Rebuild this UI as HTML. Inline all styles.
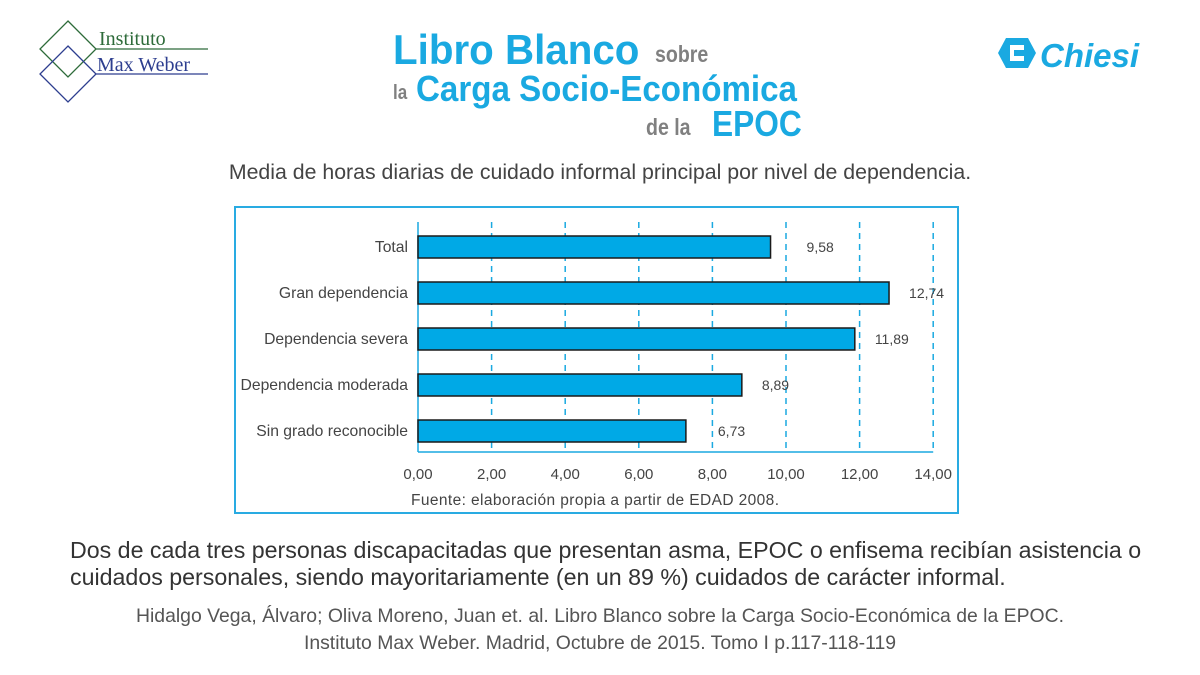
<!DOCTYPE html>
<html><head><meta charset="utf-8"><style>
body{margin:0;width:1200px;height:675px;background:#fff;position:relative;overflow:hidden;font-family:"Liberation Sans",sans-serif}
.abs{position:absolute;white-space:nowrap}
.t{color:#1aa9e1;font-family:"Liberation Sans",sans-serif;font-weight:bold;transform-origin:0 0}
.g{color:#808080;font-family:"Liberation Sans",sans-serif;font-weight:bold;transform-origin:0 0}
</style></head><body>
<svg class="abs" style="left:0;top:0" width="220" height="110">
<polygon points="68,21 96,49 68,77 40,49" fill="none" stroke="#2e6b3a" stroke-width="1.3"/>
<polygon points="68,46 96,74 68,102 40,74" fill="none" stroke="#2d3e8f" stroke-width="1.3"/>
<line x1="96" y1="49" x2="208" y2="49" stroke="#2e6b3a" stroke-width="1.3"/>
<line x1="96" y1="74" x2="208" y2="74" stroke="#2d3e8f" stroke-width="1.3"/>
<text x="99" y="45" font-family="Liberation Serif" font-size="20" fill="#2e6b3a">Instituto</text>
<text x="97" y="71" font-family="Liberation Serif" font-size="20" fill="#2d3e8f">Max Weber</text>
</svg>
<div class="abs t" style="left:393px;top:26px;font-size:42px;transform:scaleX(0.96)">Libro Blanco</div>
<div class="abs g" style="left:655px;top:41px;font-size:23px;transform:scaleX(0.85)">sobre</div>
<div class="abs g" style="left:393px;top:82px;font-size:20px;transform:scaleX(0.85)">la</div>
<div class="abs t" style="left:416px;top:68px;font-size:36px;transform:scaleX(0.92)">Carga Socio-Económica</div>
<div class="abs g" style="left:646px;top:114px;font-size:23px;transform:scaleX(0.85)">de la</div>
<div class="abs t" style="left:712px;top:103px;font-size:36px;transform:scaleX(0.88)">EPOC</div>
<svg class="abs" style="left:998px;top:36px" width="165" height="40">
<polygon points="8,2 30,2 38,17 30,32 8,32 0,17" fill="#1aa9e1"/>
<polygon points="12,9 26,9 26,14 16,14 16,20 26,20 26,25 12,25" fill="#fff"/>
<text x="42" y="31" font-family="Liberation Sans" font-weight="bold" font-style="italic" font-size="33" fill="#1aa9e1">Chiesi</text>
</svg>
<div class="abs" style="left:0;width:1200px;text-align:center;top:160px;font-size:21.3px;color:#444">Media de horas diarias de cuidado informal principal por nivel de dependencia.</div>
<svg class="abs" id="chart" style="left:0;top:0" width="1200" height="560">
<rect x="235" y="207" width="723" height="306" fill="none" stroke="#29abe2" stroke-width="2"/>
<g id="plot"></g>
<text x="411" y="505" font-size="15.5" fill="#444" textLength="368">Fuente: elaboración propia a partir de EDAD 2008.</text>
</svg>
<div class="abs" style="left:70px;top:537px;font-size:23.2px;color:#333;line-height:27px">Dos de cada tres personas discapacitadas que presentan asma, EPOC o enfisema recibían asistencia o<br>cuidados personales, siendo mayoritariamente (en un 89 %) cuidados de carácter informal.</div>
<div class="abs" style="left:0;width:1200px;text-align:center;top:603px;font-size:19.4px;color:#555;line-height:27px">Hidalgo Vega, Álvaro; Oliva Moreno, Juan et. al. Libro Blanco sobre la Carga Socio-Económica de la EPOC.<br>Instituto Max Weber. Madrid, Octubre de 2015. Tomo I p.117-118-119</div>
<script>
const categories=["Total","Gran dependencia","Dependencia severa","Dependencia moderada","Sin grado reconocible"];
const values=[9.58,12.80,11.87,8.80,7.28];
const valueLabels=["9,58","12,74","11,89","8,89","6,73"];
const ticks=[0,2,4,6,8,10,12,14];
const tickLabels=["0,00","2,00","4,00","6,00","8,00","10,00","12,00","14,00"];
const NS="http://www.w3.org/2000/svg";
const g=document.getElementById('plot');
const X0=418,PX=36.8,Y0=236,STEP=46,BH=22,TOP=222,BOT=452;
const xs=v=>X0+v*PX, ys=i=>Y0+i*STEP;
function mk(t,a){const e=document.createElementNS(NS,t);for(const k in a)e.setAttribute(k,a[k]);g.appendChild(e);return e;}
ticks.forEach((t,i)=>{
 if(t>0){const l=mk('line',{x1:xs(t),x2:xs(t),y1:TOP,y2:BOT,stroke:'#1aa9e1','stroke-width':1.5,'stroke-dasharray':'6,5'});
 
 }
 const tx=mk('text',{x:xs(t),y:479,'text-anchor':'middle','font-size':15,fill:'#444'});tx.textContent=tickLabels[i];
 
 
});
const ax=mk('line',{x1:X0,x2:X0,y1:TOP,y2:BOT,stroke:'#1aa9e1','stroke-width':1.5});


const bx=mk('line',{x1:X0,x2:xs(14),y1:BOT,y2:BOT,stroke:'#1aa9e1','stroke-width':1.5});


categories.forEach((c,i)=>{
 const r=mk('rect',{x:X0,y:ys(i),width:xs(values[i])-X0,height:BH,fill:'#00a9e6',stroke:'#1a1a1a','stroke-width':1.5});
 
 
 const lb=mk('text',{x:408,y:ys(i)+BH/2+5,'text-anchor':'end','font-size':15.7,fill:'#444'});lb.textContent=c;
 
 
 const vl=mk('text',{x:xs(values[i])+(i==0?36:i==4?32:20),y:ys(i)+BH/2+5,'font-size':14,fill:'#444'});vl.textContent=valueLabels[i];
 
 
});
</script>
</body></html>
